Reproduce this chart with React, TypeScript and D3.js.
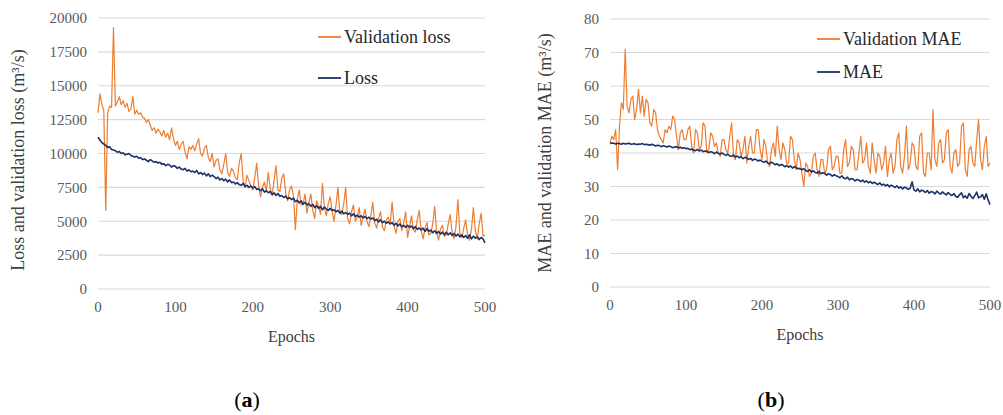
import React, { useEffect, useRef } from "react";
import * as d3 from "d3";

// epochs sampled every 2.5
const epochs = d3.range(0, 500.1, 2.5);

const validationLoss = [
  13000, 14400, 13600, 13200, 5800, 13000, 13500, 13400, 19300, 13500, 13800, 14200, 13600, 13900, 13400, 13700, 13100, 13300, 14200, 12900,
  13200, 12900, 13000, 12700, 12600, 12300, 12500, 12100, 11700, 11900, 11500, 11800, 11600, 11300, 11700, 11200, 11500, 11000, 11900, 11100,
  10600, 10900, 10300, 10700, 10900, 10100, 9600, 10500, 10300, 10600, 10200, 10700, 11100, 10000, 9800, 10400, 10600, 9700, 9400, 10000,
  9000, 9500, 9600, 8800, 8500, 9200, 10000, 8600, 8300, 8900, 8700, 8200, 8100, 9300, 10000, 8000, 7500, 8400, 8000, 7600,
  7300, 8200, 9300, 7600, 6800, 7500, 7900, 7200, 8600, 7400, 7000, 8000, 9100, 7300, 7200, 8200, 8500, 7100, 6500, 7300,
  7600, 6900, 4400, 6600, 7300, 6200, 6300, 7000, 5600, 6400, 7000, 5800, 5200, 6500, 6100, 5500, 7800, 6000, 5400, 6300,
  6800, 5700, 5000, 6200, 7500, 5600, 5500, 6300, 7500, 5200, 4800, 5700, 6200, 5000, 5300, 6000, 4700, 5300, 5900, 5000,
  4600, 5400, 6400, 4900, 4500, 5200, 5700, 4600, 4300, 5100, 5300, 4800, 6400, 4700, 4100, 5000, 5200, 4300, 4900, 5700,
  3800, 4600, 5400, 4400, 4200, 5100, 5800, 4300, 3700, 4500, 4900, 4000, 4100, 4800, 6100, 4200, 3600, 4400, 4700, 3900,
  4000, 4800, 5500, 4200, 3700, 4600, 6600, 4100, 3800, 4500, 5100, 4000, 3600, 4400, 6000, 4300, 3700, 4800, 5600, 3900,
  4000,
];

const loss = [
  11200, 11000, 10800, 10700, 10600, 10450, 10500, 10300, 10250, 10200, 10100, 10150, 10000, 10050, 9900, 9950, 10000, 9850, 9800, 9750,
  9800, 9650, 9700, 9550, 9600, 9500, 9400, 9550, 9450, 9350, 9400, 9300, 9350, 9200, 9250, 9100, 9200, 9150, 9000, 9100,
  9050, 8900, 9000, 8850, 8800, 8900, 8700, 8800, 8650, 8700, 8600, 8750, 8500, 8600, 8450, 8550, 8350, 8500, 8300, 8400,
  8300, 8150, 8250, 8050, 8150, 8000, 8100, 7900, 8050, 7850, 7900, 7750, 7850, 7700, 7650, 7800, 7550, 7650, 7500, 7600,
  7450, 7550, 7350, 7400, 7250, 7400, 7150, 7250, 7100, 7200, 6950, 7100, 6900, 7050, 6850, 6900, 6750, 6850, 6650, 6750,
  6600, 6700, 6450, 6550, 6350, 6500, 6250, 6400, 6200, 6300, 6100, 6250, 6000, 6150, 5950, 6100, 5850, 6050, 5900, 5800,
  5950, 5800, 5850, 5700, 5800, 5600, 5750, 5550, 5650, 5500, 5600, 5400, 5550, 5350, 5450, 5300, 5400, 5250, 5350, 5200,
  5300, 5150, 5250, 5050, 5150, 4950, 5100, 4900, 5000, 4850, 4950, 4800, 4900, 4700, 4850, 4650, 4800, 4600, 4700, 4550,
  4700, 4550, 4650, 4450, 4600, 4400, 4500, 4350, 4500, 4250, 4450, 4250, 4350, 4150, 4300, 4100, 4250, 4050, 4200, 4000,
  4200, 4000, 4150, 3950, 4100, 3900, 4050, 3850, 4000, 3800, 3950, 3750, 4000, 3700, 3900, 3750, 3850, 3650, 3800, 3700,
  3400,
];

const validationMae = [
  43, 45, 44, 47, 35, 48, 55, 53, 71, 54, 52, 56, 57, 50, 53, 59, 52, 57, 51, 56,
  55, 49, 48, 53, 52, 47, 45, 44, 43, 47, 46, 48, 47, 51, 50, 45, 41, 46, 47, 44,
  44, 47, 48, 42, 40, 47, 46, 41, 42, 49, 48, 40, 41, 46, 45, 42, 43, 40, 39, 44,
  44, 41, 40, 45, 49, 39, 38, 44, 43, 39, 41, 45, 37, 42, 45, 40, 40, 47, 47, 41,
  38, 44, 42, 37, 36, 41, 43, 39, 48, 41, 38, 43, 41, 37, 37, 45, 44, 38, 35, 40,
  38, 34, 30, 37, 36, 33, 34, 39, 40, 35, 33, 38, 38, 34, 35, 41, 42, 35, 36, 39,
  39, 34, 34, 41, 44, 36, 37, 42, 41, 35, 35, 40, 45, 37, 38, 43, 36, 34, 43, 38,
  34, 40, 39, 35, 37, 42, 33, 38, 40, 34, 36, 44, 46, 36, 34, 39, 48, 35, 37, 43,
  42, 36, 35, 45, 46, 34, 33, 40, 40, 35, 53, 38, 36, 43, 44, 37, 38, 46, 47, 36,
  34, 40, 41, 36, 37, 48, 49, 35, 33, 41, 42, 37, 36, 44, 50, 38, 35, 42, 45, 36,
  37,
];

const mae = [
  42.8, 43.0, 42.9, 42.7, 42.9, 42.8, 42.6, 42.9, 42.7, 42.8, 42.9, 42.6, 42.7, 42.8, 42.5, 42.7, 42.6, 42.8, 42.5, 42.6,
  42.5, 42.3, 42.6, 42.4, 42.1, 42.3, 42.2, 41.9, 42.2, 42.0, 41.8, 42.1, 41.9, 41.6, 41.8, 41.9, 41.5, 41.7, 41.4, 41.6,
  41.3, 41.4, 41.0, 41.2, 40.8, 40.7, 41.1, 40.6, 40.9, 40.4, 40.6, 40.5, 40.1, 40.4, 40.2, 39.8, 40.3, 39.9, 39.7, 40.0,
  39.6, 39.3, 39.7, 39.1, 39.0, 39.4, 38.8, 39.1, 38.6, 38.9, 38.3, 38.7, 38.5, 38.1, 38.4, 37.8, 38.2, 38.0, 37.6, 37.9,
  37.5, 37.2, 37.6, 37.0, 36.8, 37.3, 36.9, 36.5, 36.8, 36.2, 36.6, 36.4, 35.9, 36.3, 35.8, 36.1, 35.5, 35.9, 35.6, 35.3,
  35.4, 35.0, 35.3, 34.8, 34.5, 35.0, 34.3, 34.7, 34.2, 34.0, 34.5, 33.8, 34.1, 33.9, 33.4, 33.8, 33.6, 33.1, 33.5, 33.2,
  33.0, 32.6, 33.2, 32.5, 32.3, 32.8, 32.0, 32.4, 32.2, 31.7, 32.1, 31.9, 31.5, 31.9, 31.3, 31.7, 31.1, 31.5, 30.9, 31.3,
  30.9, 30.6, 31.1, 30.4, 30.7, 30.2, 30.6, 29.9, 30.4, 30.1, 29.7, 30.2, 29.5, 29.9, 29.3, 29.8, 29.6, 29.1, 29.5, 31.4,
  29.0, 28.6, 29.3, 28.4, 28.9, 28.7, 28.2, 28.8, 28.0, 28.5, 28.3, 27.8, 28.6, 28.1, 27.7, 28.4, 27.9, 27.5, 28.2, 27.6,
  27.3, 27.9, 27.0, 26.8, 27.6, 28.1, 26.7, 27.2, 26.5, 27.9, 27.1, 26.4, 27.3, 28.3, 26.6, 26.9, 27.6, 26.2, 27.8, 26.0,
  24.6,
];

const xTicks = [0, 100, 200, 300, 400, 500];
const lossTicks = [0, 2500, 5000, 7500, 10000, 12500, 15000, 17500, 20000];
const maeTicks = [0, 10, 20, 30, 40, 50, 60, 70, 80];

const ORANGE = "#ED7D31";
const NAVY = "#1F3068";
const FONT = "Liberation Serif, Tinos, Times New Roman, DejaVu Serif, serif";

type PanelCfg = {
  left: number;
  right: number;
  top: number;
  bottom: number;
  yMax: number;
  yTicks: number[];
  valSeries: number[];
  trainSeries: number[];
  yTitle: string;
  yTitleX: number;
  yTitleY: number;
  valLabel: string;
  trainLabel: string;
  legendX: number;
  legendY1: number;
  legendY2: number;
  tag: string;
  tagX: number;
};

function drawPanel(svg: d3.Selection<SVGSVGElement, unknown, null, undefined>, c: PanelCfg) {
  const x = d3.scaleLinear().domain([0, 500]).range([c.left, c.right]);
  const y = d3.scaleLinear().domain([0, c.yMax]).range([c.bottom, c.top]);
  const g = svg.append("g");

  g.selectAll("line.grid")
    .data(c.yTicks)
    .join("line")
    .attr("x1", c.left)
    .attr("x2", c.right)
    .attr("y1", (d) => y(d))
    .attr("y2", (d) => y(d))
    .attr("stroke", "#d9d9d9")
    .attr("stroke-width", 1.2);

  g.selectAll("text.ytick")
    .data(c.yTicks)
    .join("text")
    .attr("x", c.left - 11)
    .attr("y", (d) => y(d))
    .attr("dy", "0.35em")
    .attr("text-anchor", "end")
    .style("font-family", FONT)
    .style("font-size", "15px")
    .attr("fill", "#595959")
    .text((d) => d);

  g.selectAll("text.xtick")
    .data(xTicks)
    .join("text")
    .attr("x", (d) => x(d))
    .attr("y", c.bottom + 23)
    .attr("text-anchor", "middle")
    .style("font-family", FONT)
    .style("font-size", "15px")
    .attr("fill", "#595959")
    .text((d) => d);

  const line = d3
    .line<number>()
    .x((_, i) => x(epochs[i]))
    .y((d) => y(d));

  g.append("path")
    .datum(c.valSeries)
    .attr("fill", "none")
    .attr("stroke", ORANGE)
    .attr("stroke-width", 1.2)
    .attr("stroke-linejoin", "round")
    .attr("d", line);

  g.append("path")
    .datum(c.trainSeries)
    .attr("fill", "none")
    .attr("stroke", NAVY)
    .attr("stroke-width", 1.6)
    .attr("stroke-linejoin", "round")
    .attr("d", line);

  // legend
  const legend = [
    { label: c.valLabel, color: ORANGE, yy: c.legendY1 },
    { label: c.trainLabel, color: NAVY, yy: c.legendY2 },
  ];
  legend.forEach((l) => {
    g.append("line")
      .attr("x1", c.legendX)
      .attr("x2", c.legendX + 23)
      .attr("y1", l.yy)
      .attr("y2", l.yy)
      .attr("stroke", l.color)
      .attr("stroke-width", 1.8);
    g.append("text")
      .attr("x", c.legendX + 26)
      .attr("y", l.yy)
      .attr("dy", "0.35em")
      .style("font-family", FONT)
      .style("font-size", "18px")
      .attr("fill", "#262626")
      .text(l.label);
  });

  g.append("text")
    .attr("transform", `translate(${c.yTitleX}, ${c.yTitleY}) rotate(-90)`)
    .attr("text-anchor", "middle")
    .attr("dy", "0.35em")
    .style("font-family", FONT)
    .style("font-size", "18px")
    .attr("fill", "#404040")
    .text(c.yTitle);

  g.append("text")
    .attr("x", (c.left + c.right) / 2)
    .attr("y", c.bottom + 53)
    .attr("text-anchor", "middle")
    .style("font-family", FONT)
    .style("font-size", "16px")
    .attr("fill", "#404040")
    .text("Epochs");

  const tag = g
    .append("text")
    .attr("x", c.tagX)
    .attr("y", 407)
    .attr("text-anchor", "middle")
    .style("font-family", FONT)
    .style("font-size", "22px")
    .attr("fill", "#000");
  tag.append("tspan").text("(");
  tag.append("tspan").attr("font-weight", "bold").text(c.tag);
  tag.append("tspan").text(")");
}

export default function App() {
  const ref = useRef<SVGSVGElement>(null);

  useEffect(() => {
    const svg = d3.select(ref.current!);
    svg.selectAll("*").remove();

    drawPanel(svg, {
      left: 98,
      right: 485,
      top: 18,
      bottom: 289,
      yMax: 20000,
      yTicks: lossTicks,
      valSeries: validationLoss,
      trainSeries: loss,
      yTitle: "Loss and validation loss (m³/s)",
      yTitleX: 18,
      yTitleY: 160,
      valLabel: "Validation loss",
      trainLabel: "Loss",
      legendX: 318,
      legendY1: 37,
      legendY2: 78,
      tag: "a",
      tagX: 247,
    });

    drawPanel(svg, {
      left: 610,
      right: 990,
      top: 19,
      bottom: 287,
      yMax: 80,
      yTicks: maeTicks,
      valSeries: validationMae,
      trainSeries: mae,
      yTitle: "MAE and validation MAE (m³/s)",
      yTitleX: 545,
      yTitleY: 153,
      valLabel: "Validation MAE",
      trainLabel: "MAE",
      legendX: 817,
      legendY1: 39,
      legendY2: 72,
      tag: "b",
      tagX: 771,
    });
  }, []);

  return (
    <svg
      ref={ref}
      width={1003}
      height={415}
      style={{ position: "absolute", left: 0, top: 0, background: "#fff" }}
    />
  );
}
